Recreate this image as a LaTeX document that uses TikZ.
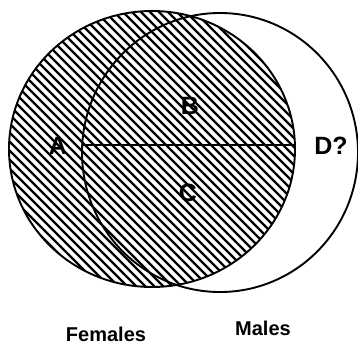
\documentclass[tikz,border=0pt]{standalone}
\usepackage{fontspec}
\setmainfont{Liberation Sans}
\usetikzlibrary{shapes.geometric}
\begin{document}
\begin{tikzpicture}[x=1pt,y=-1pt,
  ring/.style={draw=black,line width=1.9pt,ellipse,inner sep=0pt},
  hatchline/.style={line width=2.2pt,black},
  biglabel/.style={font=\fontsize{25}{25}\selectfont\bfseries,inner sep=0pt},
  grouplabel/.style={font=\fontsize{20}{20}\selectfont\bfseries,inner sep=0pt}]
\useasboundingbox (0,0) rectangle (358,346);
% hatching of the Females circle
\begin{scope}
  \clip (152,149) ellipse [x radius=143, y radius=138];
  \foreach \i in {-40,...,40}{
    \draw[hatchline] ({152+\i*9-200},{149-200}) -- ({152+\i*9+200},{149+200});
  }
\end{scope}
\node[ring,minimum width=286pt,minimum height=276pt] (F) at (152,149) {};
\node[ring,minimum width=276pt,minimum height=279pt] (M) at (220,152.5) {};
\coordinate (lineL) at (82.5,145);
\coordinate (lineR) at (294.5,145);
\draw[line width=1.9pt] (lineL) -- (lineR);
\node[biglabel] (A) at (58,146) {A};
\node[biglabel] (B) at (190,106) {B};
\node[biglabel] (C) at (188,193) {C};
\node[biglabel] (D) at (331,146) {D?};
\node[grouplabel] (Fem) at (106,334) {Females};
\node[grouplabel] (Mal) at (263,328) {Males};
\end{tikzpicture}
\end{document}
